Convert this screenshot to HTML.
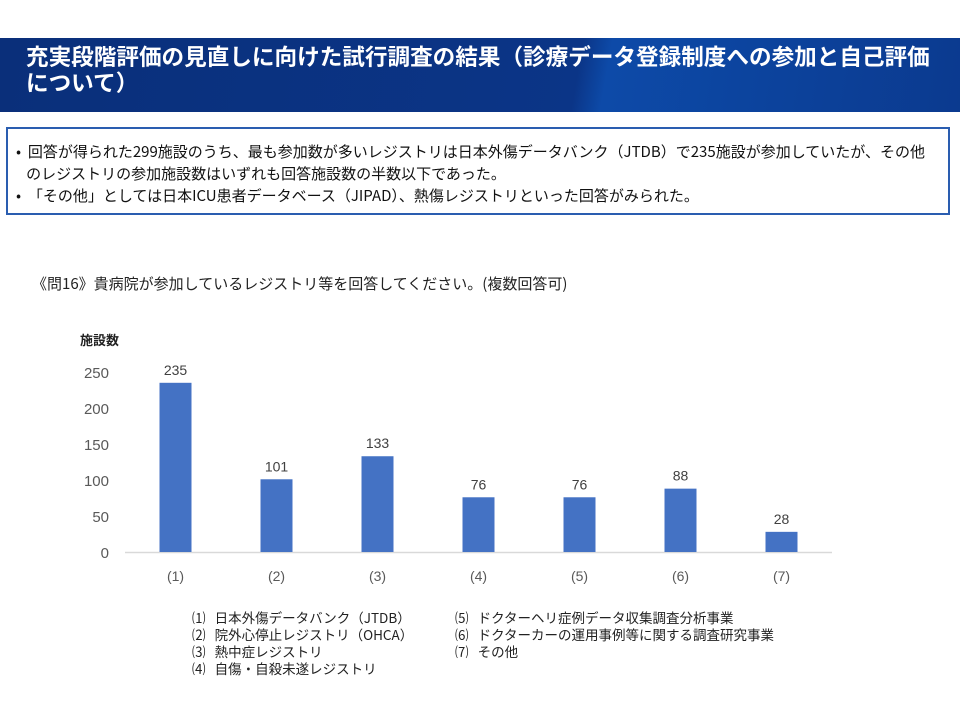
<!DOCTYPE html>
<html><head><meta charset="utf-8"><style>
body{margin:0;width:960px;height:720px;background:#fff;font-family:"Liberation Sans","Noto Sans CJK JP",sans-serif;position:relative;overflow:hidden}
.hdr{position:absolute;left:0;top:38px;width:960px;height:74px;background:linear-gradient(100deg,#0a2f7a 0%,#0b3587 60%,#0d4aa8 63%,#0b3a8f 100%)}
.hdr h1{margin:0;position:absolute;left:26px;top:5px;color:#fff;font-size:22.6px;line-height:26px;font-weight:bold;font-family:"Noto Sans CJK JP",sans-serif;white-space:nowrap}
.box{position:absolute;left:6px;top:127px;width:940px;height:84px;border:2px solid #2a5db0}
.box p{margin:0;position:absolute;left:8px;font-size:15px;line-height:22px;color:#111;font-family:"Noto Sans CJK JP",sans-serif;white-space:nowrap}
.q{position:absolute;left:32px;top:273px;font-size:15px;color:#222;font-family:"Noto Sans CJK JP",sans-serif}
.leg{position:absolute;font-size:13.5px;line-height:17px;color:#222;font-family:"Noto Sans CJK JP",sans-serif}
</style></head><body>
<div class="hdr"><h1>充実段階評価の見直しに向けた試行調査の結果（診療データ登録制度への参加と自己評価<br>について）</h1></div>
<div class="box">
<p style="top:12px">•&nbsp; 回答が得られた299施設のうち、最も参加数が多いレジストリは日本外傷データバンク（JTDB）で235施設が参加していたが、その他<br>&nbsp;&nbsp;&nbsp;のレジストリの参加施設数はいずれも回答施設数の半数以下であった。</p>
<p style="top:56px">•&nbsp; 「その他」としては日本ICU患者データベース（JIPAD）、熱傷レジストリといった回答がみられた。</p>
</div>
<div class="q">《問16》貴病院が参加しているレジストリ等を回答してください。(複数回答可)</div>
<svg id="chart" width="960" height="720" style="position:absolute;left:0;top:0">
<text x="80" y="345" font-size="13" font-weight="bold" fill="#222" font-family="Noto Sans CJK JP,sans-serif">施設数</text>
</svg>
<div class="leg" style="left:192px;top:609px">⑴&nbsp;&nbsp; 日本外傷データバンク（JTDB）<br>⑵&nbsp;&nbsp; 院外心停止レジストリ（OHCA）<br>⑶&nbsp;&nbsp; 熱中症レジストリ<br>⑷&nbsp;&nbsp; 自傷・自殺未遂レジストリ</div>
<div class="leg" style="left:455px;top:609px">⑸&nbsp;&nbsp; ドクターヘリ症例データ収集調査分析事業<br>⑹&nbsp;&nbsp; ドクターカーの運用事例等に関する調査研究事業<br>⑺&nbsp;&nbsp; その他</div>
<script>
const categories=["(1)","(2)","(3)","(4)","(5)","(6)","(7)"];
const values=[235,101,133,76,76,88,28];
const yTicks=[0,50,100,150,200,250];
const svg=document.getElementById('chart');
const NS='http://www.w3.org/2000/svg';
const x0=125,x1=832,y0=552,yTop=372,yMax=250;
const step=(x1-x0)/categories.length;
const xc=i=>x0+step*(i+0.5);
const y=v=>y0-(y0-yTop)*v/yMax;
function mk(t,a){const e=document.createElementNS(NS,t);for(const k in a)e.setAttribute(k,a[k]);svg.appendChild(e);return e;}
yTicks.forEach(t=>{const e=mk('text',{x:109,y:y(t)+6,'text-anchor':'end','font-size':15,fill:'#595959'});e.textContent=t;

});
const ax=mk('line',{x1:x0,x2:x1,y1:y0+0.5,y2:y0+0.5,stroke:'#d9d9d9','stroke-width':1.5});


values.forEach((v,i)=>{
const b=mk('rect',{x:xc(i)-16,y:y(v),width:32,height:y0-y(v),fill:'#4472c4'});


const l=mk('text',{x:xc(i),y:y(v)-8,'text-anchor':'middle','font-size':14,fill:'#404040'});l.textContent=v;


const c=mk('text',{x:xc(i),y:581,'text-anchor':'middle','font-size':14,fill:'#595959'});c.textContent=categories[i];


});
</script>
</body></html>
